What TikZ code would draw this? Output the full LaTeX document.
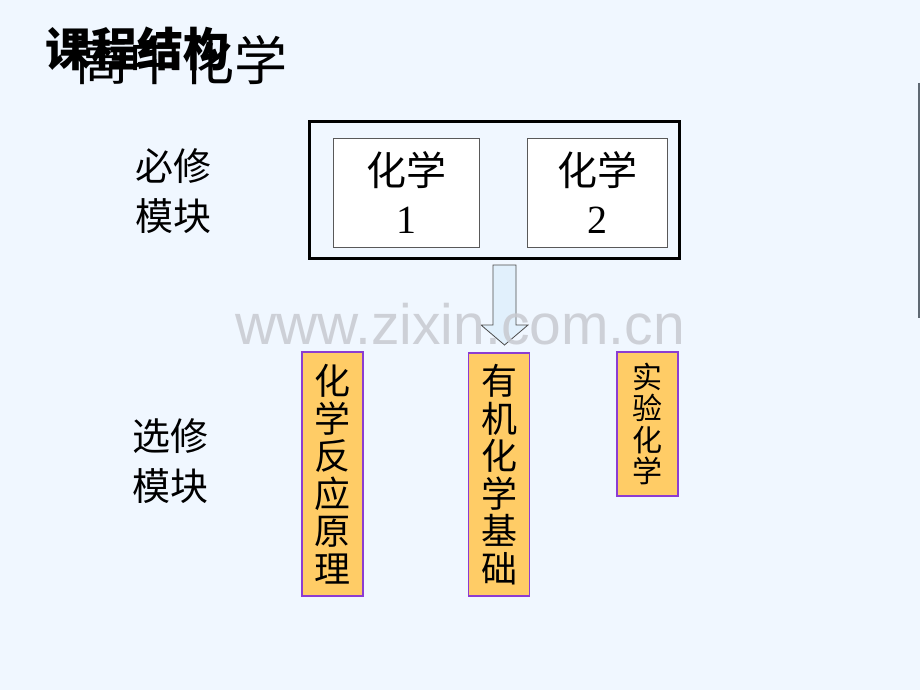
\documentclass[tikz,border=0pt]{standalone}
\usepackage{fontspec}
\setmainfont{Liberation Serif}
\newfontfamily\cjk{Noto Sans CJK SC}
\newfontfamily\wmfont{Liberation Sans}
\usetikzlibrary{positioning,calc}
\definecolor{slidebg}{RGB}{240,247,255}
\definecolor{optfill}{RGB}{255,204,102}
\definecolor{optedge}{RGB}{140,60,210}
\definecolor{arrowblue}{RGB}{225,240,252}
\definecolor{markgray}{RGB}{200,202,208}
\definecolor{edgegray}{RGB}{95,105,115}
\tikzset{
  modbox/.style={draw=gray!70!black,fill=white,line width=1pt,minimum width=#1,
    minimum height=109,inner sep=0pt,align=center,font=\fontsize{40}{48}\selectfont},
  optbox/.style={draw=optedge,fill=optfill,line width=1.3pt,minimum width=61,
    inner sep=0pt,align=center},
  sidetext/.style={inner sep=0pt,align=center,font=\cjk\fontsize{38}{50}\selectfont}
}

\begin{document}
\begin{tikzpicture}[x=1pt,y=-1pt]
        % draw background
        \fill[slidebg] (0,0) rectangle (920,690);
        \useasboundingbox (0,0) rectangle (920,690);
        % draw title
        \node[anchor=west,inner sep=0pt,font=\cjk\fontsize{53}{53}\selectfont] (hschem) at (75,60) {高中化学};
        \node[anchor=west,inner sep=0pt,font=\cjk\bfseries\fontsize{46}{46}\selectfont] (course) at (45,49) {课程结构};
        % draw side labels
        \node[sidetext] (required) at (173,191) {必修\\模块};
        \node[sidetext] (elective) at (170,461) {选修\\模块};
        % draw required modules
        \node[draw,line width=3pt,minimum width=370,minimum height=136,inner sep=0pt] (core) at (494,190) {};
        \node[modbox=146] (chem1) at (406,192.5) {{\cjk 化学}\\1};
        \node[modbox=140] (chem2) at (597,192.5) {{\cjk 化学}\\2};
        % draw block arrow
        \draw[fill=arrowblue,draw=gray!60!black,line width=0.8pt]
          (493,265) -- (516,265) -- (516,325) -- (528,325) -- (504.5,345)
          -- (481,325) -- (493,325) -- cycle;
        % draw elective modules
        \node[optbox,minimum height=244,font=\cjk\fontsize{36}{37.5}\selectfont] (principle) at (332.5,474) {化\\学\\反\\应\\原\\理};
        \node[optbox,minimum height=243,font=\cjk\fontsize{36}{37.5}\selectfont] (organic) at (499,474.5) {有\\机\\化\\学\\基\\础};
        \node[optbox,minimum height=144,font=\cjk\fontsize{30}{31.5}\selectfont] (lab) at (647.5,424) {实\\验\\化\\学};
        % draw right edge
        \draw[edgegray,line width=2pt] (919,83) -- (919,318);
        % draw watermark
        \node[anchor=base,inner sep=0pt,text=markgray,opacity=0.85,font=\wmfont\fontsize{57}{57}\selectfont] (mark) at (460,344) {www.zixin.com.cn};
\end{tikzpicture}
\end{document}
